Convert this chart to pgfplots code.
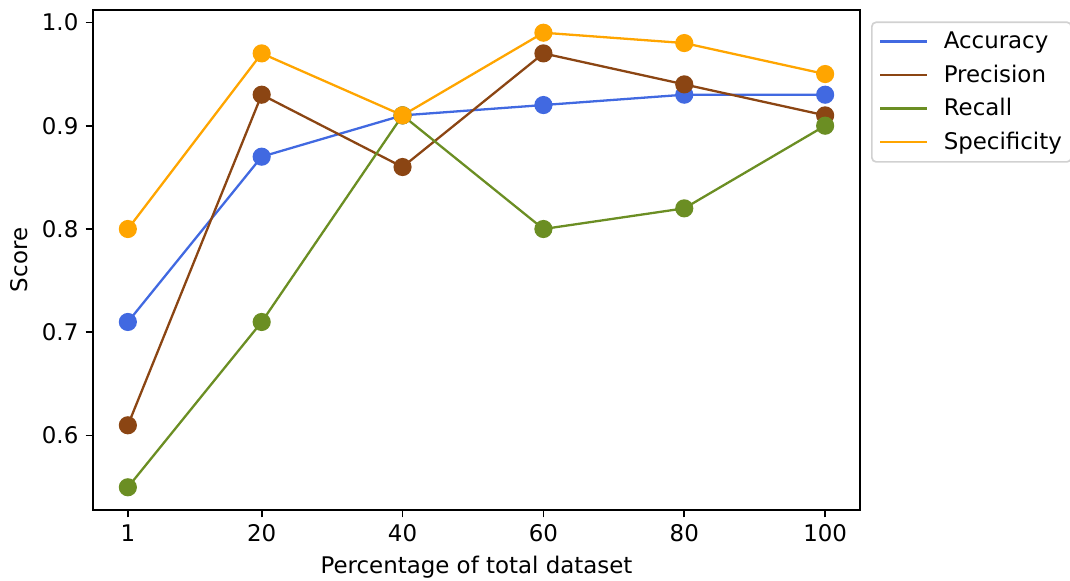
\documentclass[border=0pt]{standalone}
\usepackage{pgfplots}
\pgfplotsset{compat=1.18}
\usepackage{fontspec}
\setmainfont{DejaVu Sans}
\definecolor{cAcc}{RGB}{65,105,225}
\definecolor{cPre}{RGB}{139,69,19}
\definecolor{cRec}{RGB}{107,142,35}
\definecolor{cSpe}{RGB}{255,165,0}
\begin{document}
\begin{tikzpicture}
\useasboundingbox (-44.64pt,-33.6pt) rectangle (468.96pt,244.8pt);
\begin{axis}[
  name=ax,
  at={(0,0)}, anchor=south west,
  scale only axis,
  width=368.16pt, height=240pt,
  xmin=-3.95, xmax=104.95,
  ymin=0.528, ymax=1.012,
  xtick={1,20,40,60,80,100},
  ytick={0.6,0.7,0.8,0.9,1.0},
  yticklabel style={/pgf/number format/.cd,fixed,fixed zerofill,precision=1},
  /pgf/number format/assume math mode=true,
  tick label style={font=\fontsize{11}{13}\selectfont},
  label style={font=\fontsize{11}{13}\selectfont},
  tick align=outside,
  major tick length=3.5pt,
  tick style={black, line width=0.8pt},
  axis line style={line width=0.8pt},
  xtick pos=bottom, ytick pos=left,
  xlabel={Percentage of total dataset},
  ylabel={Score},
  legend style={at={(1,1)}, anchor=north west, xshift=5.3pt, yshift=-5.5pt,
    draw=black!18, rounded corners=2pt, font=\fontsize{11}{13}\selectfont,
    inner sep=2.5pt, row sep=2.3pt, line width=0.8pt},
  legend cell align=left,
  legend image code/.code={\draw[#1,mark=none,line width=1.1pt] (1.5pt,0pt) -- (24pt,0pt); \path[draw=none,fill=none] (0pt,0pt) -- (30pt,0pt);},
  every axis plot/.append style={line width=1.1pt, mark=*, mark size=3.8pt},
]
\addplot[color=cAcc, mark options={fill=cAcc, draw=cAcc}] coordinates {(1,0.71) (20,0.87) (40,0.91) (60,0.92) (80,0.93) (100,0.93)};
\addlegendentry{Accuracy}
\addplot[color=cPre, mark options={fill=cPre, draw=cPre}] coordinates {(1,0.61) (20,0.93) (40,0.86) (60,0.97) (80,0.94) (100,0.91)};
\addlegendentry{Precision}
\addplot[color=cRec, mark options={fill=cRec, draw=cRec}] coordinates {(1,0.55) (20,0.71) (40,0.91) (60,0.80) (80,0.82) (100,0.90)};
\addlegendentry{Recall}
\addplot[color=cSpe, mark options={fill=cSpe, draw=cSpe}] coordinates {(1,0.80) (20,0.97) (40,0.91) (60,0.99) (80,0.98) (100,0.95)};
\addlegendentry{Specificity}
\end{axis}
\end{tikzpicture}
\end{document}
